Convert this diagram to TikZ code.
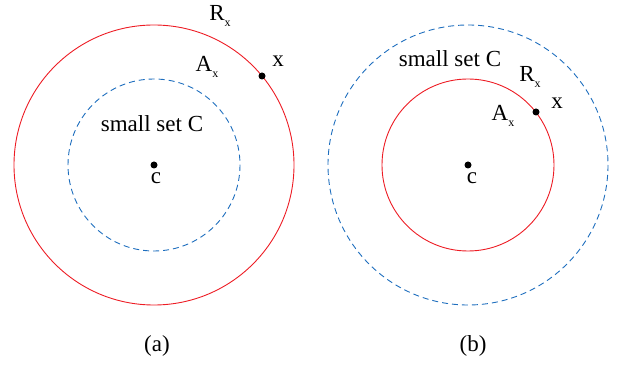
\documentclass[tikz,border=0pt]{standalone}
\usepackage{fontspec}
\setmainfont{Liberation Serif}
\definecolor{cred}{RGB}{237,28,36}
\definecolor{cblue}{RGB}{30,110,190}
\newcommand{\subx}{\raisebox{-6pt}{\fontsize{12}{12}\selectfont x}}
\begin{document}
\begin{tikzpicture}[x=1pt,y=-1pt,
  redc/.style={draw=cred,line width=0.9pt},
  bluec/.style={draw=cblue,line width=0.9pt,dash pattern=on 6pt off 4pt},
  dotn/.style={circle,fill=black,inner sep=0pt,minimum size=7pt},
  lbl/.style={font=\fontsize{23}{23}\selectfont,inner sep=0pt}]
\useasboundingbox (0,0) rectangle (622,366);
% (a)
\coordinate (ca) at (154,165);
\draw[redc] (ca) circle (140);
\draw[bluec] (ca) circle (86);
\node[dotn] (da) at (ca) {};
\node[lbl] (la) at (156,178) {c};
\node[dotn] (xa) at (262,76) {};
\node[lbl] (xla) at (278,61) {x};
\node[lbl] (ra) at (220,16) {R\subx};
\node[lbl] (aa) at (207,67) {A\subx};
\node[lbl] (sa) at (152,124) {small set C};
\node[lbl] (capa) at (157,346) {(a)};
% (b)
\coordinate (cb) at (468,165);
\draw[bluec] (cb) circle (140);
\draw[redc] (cb) circle (86);
\node[dotn] (db) at (cb) {};
\node[lbl] (lb) at (472,178) {c};
\node[dotn] (xb) at (536,112) {};
\node[lbl] (xlb) at (557,103) {x};
\node[lbl] (rb) at (530,77) {R\subx};
\node[lbl] (ab) at (503,116) {A\subx};
\node[lbl] (sb) at (450,59) {small set C};
\node[lbl] (capb) at (473,346) {(b)};
\end{tikzpicture}
\end{document}
